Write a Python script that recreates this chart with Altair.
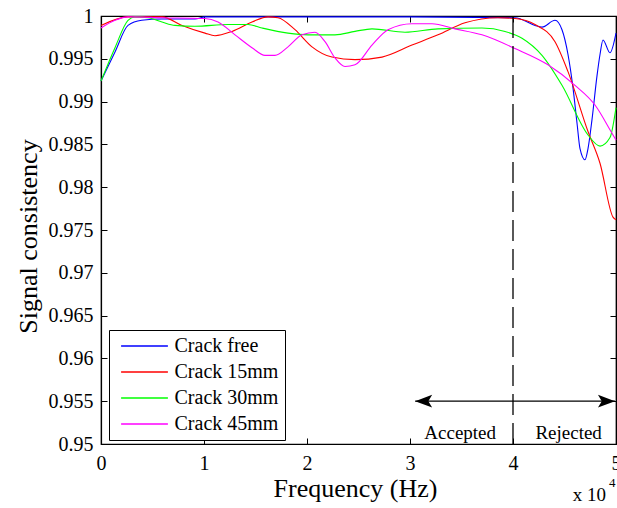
import altair as alt
import pandas as pd

FONT = "Liberation Serif"

# ---- series -------------------------------------------------------------
series_names = ["Crack free", "Crack 15mm", "Crack 30mm", "Crack 45mm"]
series_colors = ["#0000ff", "#ff0000", "#00ff00", "#ff00ff"]

free_hz = [0, 1359, 2621, 3951, 5922, 9126, 10097, 20000, 30000, 40194, 42136,
           42816, 44078, 44757, 45340, 45825, 46214, 46505, 46990, 47282, 47670,
           48155, 48447, 48738, 49417, 50000]
free_val = [0.9924, 0.9958, 0.9989, 0.9995, 0.99965, 0.99965, 0.9999, 0.9999,
            0.9999, 0.9998, 0.9989, 0.9987, 0.9995, 0.9984, 0.9955, 0.9916,
            0.9875, 0.9845, 0.9832, 0.9845, 0.9879, 0.9930, 0.9955, 0.9972,
            0.9957, 0.9980]

c15_hz = [0, 2621, 5922, 7864, 10097, 11068, 12718, 14660, 16214, 17184, 18835,
          20485, 22427, 24660, 27282, 30194, 32718, 35340, 38544, 40194, 42136,
          44078, 45340, 47282, 48447, 49709, 50000]
c15_val = [0.9989, 0.9999, 0.9999, 0.9989, 0.9980, 0.9977, 0.9982, 0.9993,
           0.9999, 0.9998, 0.9984, 0.9964, 0.9952, 0.9949, 0.9952, 0.9966,
           0.9978, 0.9992, 0.9998, 0.9997, 0.9990, 0.9970, 0.9935, 0.9865,
           0.9828, 0.9765, 0.9762]

c30_hz = [0, 1359, 2621, 3300, 4563, 5922, 7184, 9126, 12330, 14272, 15631,
          18155, 20097, 22718, 24660, 26311, 29515, 32718, 36990, 39223, 40874,
          42816, 44757, 47282, 48447, 49417, 50000]
c30_val = [0.9924, 0.9963, 0.9995, 0.9999, 0.9998, 0.9993, 0.9989, 0.9988,
           0.9990, 0.9990, 0.9986, 0.9980, 0.9978, 0.9978, 0.9982, 0.9985,
           0.9981, 0.9985, 0.9986, 0.9982, 0.9974, 0.9954, 0.9919, 0.9861,
           0.9848, 0.9858, 0.9893]

c45_hz = [0, 1359, 2621, 5922, 10097, 11359, 13010, 14660, 15922, 16893, 18155,
          19515, 20777, 21748, 22718, 23689, 24660, 26311, 27864, 30194, 32136,
          34369, 36990, 40194, 43398, 46019, 47961, 49612, 50000]
c45_val = [0.9986, 0.9995, 0.9999, 0.9998, 0.9997, 0.9993, 0.9978, 0.9963,
           0.9954, 0.9954, 0.9964, 0.9978, 0.9981, 0.9970, 0.9951, 0.9941,
           0.9943, 0.9966, 0.9984, 0.9991, 0.9991, 0.9985, 0.9978, 0.9962,
           0.9943, 0.9919, 0.9896, 0.9863, 0.9855]

x_ticks = [0, 10000, 20000, 30000, 40000, 50000]
y_ticks = [0.95, 0.955, 0.96, 0.965, 0.97, 0.975, 0.98, 0.985, 0.99, 0.995, 1.0]

# accept / reject boundary annotation
boundary_hz = [40000]
arrow_start_hz = [30500]
arrow_end_hz = [49900]
arrow_level = [0.955]
zone_labels = ["Accepted", "Rejected"]
zone_label_hz = [34870, 45400]
zone_label_level = [0.9513, 0.9513]

# ---- tables -------------------------------------------------------------
frames = []
for name, hz, val in zip(series_names,
                         [free_hz, c15_hz, c30_hz, c45_hz],
                         [free_val, c15_val, c30_val, c45_val]):
    frames.append(pd.DataFrame({"freq": hz, "value": val, "series": name}))
df = pd.concat(frames, ignore_index=True)

boundary_df = pd.DataFrame({"freq": boundary_hz, "lo": [0.95], "hi": [1.0]})
arrow_df = pd.DataFrame({"x0": arrow_start_hz, "x1": arrow_end_hz, "y": arrow_level})
left_head_df = pd.DataFrame({"x": arrow_start_hz, "y": arrow_level})
right_head_df = pd.DataFrame({"x": arrow_end_hz, "y": arrow_level})
zone_df = pd.DataFrame({"x": zone_label_hz, "y": zone_label_level, "label": zone_labels})

x_scale = alt.Scale(domain=[0, 50000], nice=False, zero=False)
y_scale = alt.Scale(domain=[0.95, 1.0], nice=False, zero=False)
inward = alt.ExprRef(expr="-6")

# ---- layers -------------------------------------------------------------
lines = alt.Chart(df).mark_line(strokeWidth=1.1, interpolate="monotone").encode(
    x=alt.X("freq:Q", scale=x_scale,
            axis=alt.Axis(orient="bottom", values=x_ticks,
                          labelExpr="format(datum.value / 10000, 'd')",
                          title="Frequency (Hz)", titleFontSize=26,
                          titleX=254, titleY=44, titleBaseline="middle",
                          labelFontSize=20, labelPadding=15,
                          tickSize=inward, labelFlush=False)),
    y=alt.Y("value:Q", scale=y_scale,
            axis=alt.Axis(orient="left", values=y_ticks, format="~g",
                          title="Signal consistency", titleFontSize=26,
                          titleX=-73, titleY=220, titleBaseline="middle",
                          labelFontSize=20, labelPadding=14,
                          tickSize=inward, labelFlush=False)),
    color=alt.Color("series:N",
                    scale=alt.Scale(domain=series_names, range=series_colors),
                    legend=alt.Legend(title=None, orient="none",
                                      legendX=8, legendY=314,
                                      direction="vertical",
                                      symbolType="M-2.6,0L2.6,0",
                                      symbolSize=324, symbolStrokeWidth=1.4,
                                      symbolOffset=19.5, labelOffset=20,
                                      labelFont=FONT, labelFontSize=20,
                                      labelColor="black",
                                      strokeColor="black", fillColor="white",
                                      padding=6, rowPadding=6)),
)

# mirrored ticks on the top and right edges of the frame
mirror = alt.Chart(df).mark_point(opacity=0).encode(
    x=alt.X("freq:Q", scale=x_scale,
            axis=alt.Axis(orient="top", values=x_ticks, labels=False,
                          title=None, tickSize=inward)),
    y=alt.Y("value:Q", scale=y_scale,
            axis=alt.Axis(orient="right", values=y_ticks, labels=False,
                          title=None, tickSize=inward)),
)

boundary = alt.Chart(boundary_df).mark_rule(
    color="black", strokeWidth=1.3, strokeDash=[21, 8]
).encode(
    x=alt.X("freq:Q", scale=x_scale, axis=None),
    y=alt.Y("lo:Q", scale=y_scale, axis=None),
    y2="hi:Q",
)

arrow = alt.Chart(arrow_df).mark_rule(color="black", strokeWidth=1.3).encode(
    x=alt.X("x0:Q", scale=x_scale, axis=None),
    x2="x1:Q",
    y=alt.Y("y:Q", scale=y_scale, axis=None),
)

left_head = alt.Chart(left_head_df).mark_point(
    shape="M0,0L2,-0.75L1.55,0L2,0.75Z", size=289, filled=True,
    color="black", opacity=1
).encode(
    x=alt.X("x:Q", scale=x_scale, axis=None),
    y=alt.Y("y:Q", scale=y_scale, axis=None),
)

right_head = alt.Chart(right_head_df).mark_point(
    shape="M0,0L-2,-0.75L-1.55,0L-2,0.75Z", size=289, filled=True,
    color="black", opacity=1
).encode(
    x=alt.X("x:Q", scale=x_scale, axis=None),
    y=alt.Y("y:Q", scale=y_scale, axis=None),
)

zones = alt.Chart(zone_df).mark_text(
    font=FONT, fontSize=19, color="black", align="center", baseline="middle"
).encode(
    x=alt.X("x:Q", scale=x_scale, axis=None),
    y=alt.Y("y:Q", scale=y_scale, axis=None),
    text="label:N",
)

exp_df = pd.DataFrame({"x": [50000], "base": ["x 10"], "power": ["4"]})
exp_base = alt.Chart(exp_df).mark_text(
    font=FONT, fontSize=19, color="black", align="right",
    baseline="alphabetic", dx=-10
).encode(
    x=alt.X("x:Q", scale=x_scale, axis=None),
    y=alt.value(485),
    text="base:N",
)
exp_power = alt.Chart(exp_df).mark_text(
    font=FONT, fontSize=13, color="black", align="left",
    baseline="alphabetic", dx=-7
).encode(
    x=alt.X("x:Q", scale=x_scale, axis=None),
    y=alt.value(471),
    text="power:N",
)

chart = alt.layer(
    lines, mirror, boundary, arrow, left_head, right_head, zones,
    exp_base, exp_power
).properties(
    width=515, height=428,
    autosize=alt.AutoSizeParams(type="none"),
    padding={"left": 101, "top": 16, "right": 1, "bottom": 64},
    background="white",
).configure_view(
    stroke="black", strokeWidth=1.2
).configure_axis(
    grid=False, domainColor="black", domainWidth=1.2,
    tickColor="black", tickWidth=1,
    labelColor="black", titleColor="black",
    labelFont=FONT, titleFont=FONT, titleFontWeight="normal",
)

chart.save("out.html", embed_options={"renderer": "svg", "actions": False})
